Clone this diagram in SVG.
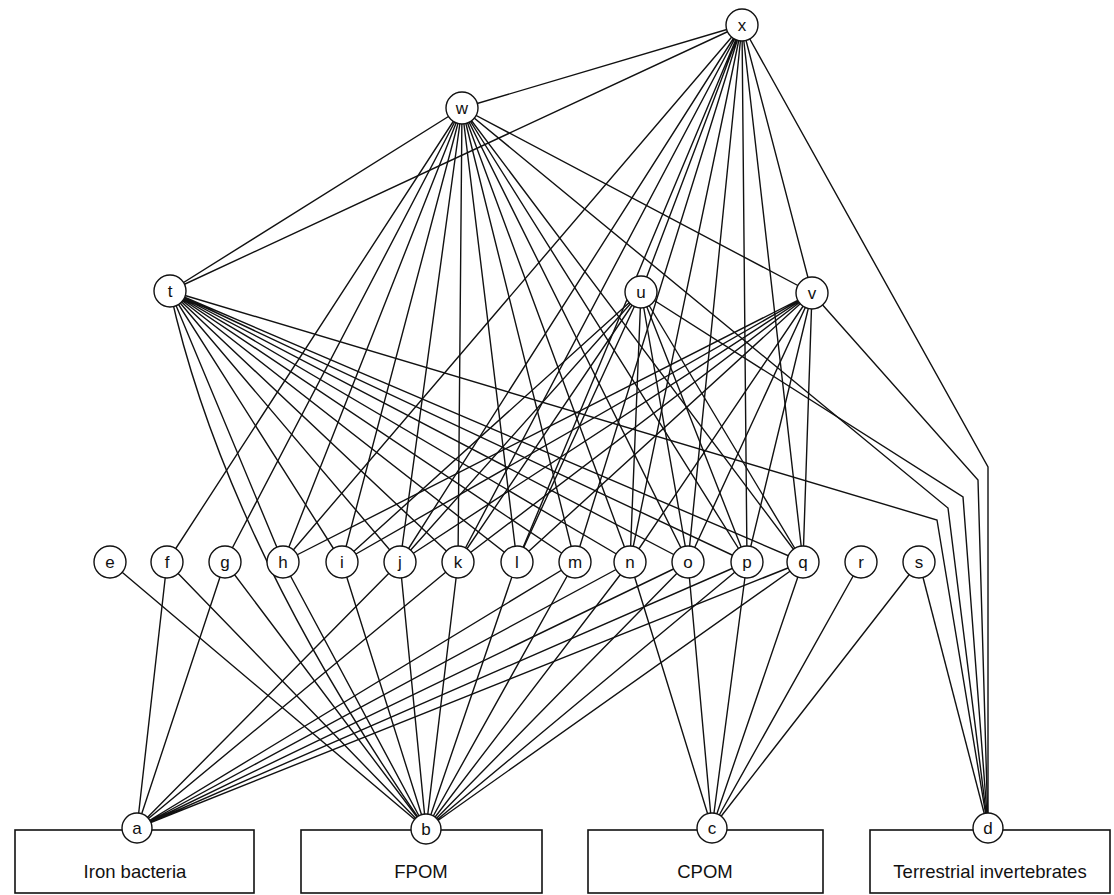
<svg xmlns="http://www.w3.org/2000/svg" width="1114" height="895" viewBox="0 0 1114 895">
<style>
.e{stroke:#111;stroke-width:1.4;fill:none}
.n circle{fill:#fff;stroke:#111;stroke-width:1.4}
.n text{font-family:"Liberation Sans",Arial,sans-serif;font-size:17px;text-anchor:middle;fill:#111}
.box rect{fill:#fff;stroke:#111;stroke-width:1.6}
.box text{font-family:"Liberation Sans",Arial,sans-serif;font-size:18.5px;text-anchor:middle;fill:#111}
</style>
<rect width="1114" height="895" fill="#fff"/>
<g id="boxes">
<g id="box-iron" class="box"><rect x="15" y="830" width="239" height="63"/><text x="135" y="878">Iron bacteria</text></g>
<g id="box-fpom" class="box"><rect x="301" y="830" width="241" height="63"/><text x="421" y="878">FPOM</text></g>
<g id="box-cpom" class="box"><rect x="588" y="830" width="235" height="63"/><text x="705" y="878">CPOM</text></g>
<g id="box-terr" class="box"><rect x="870" y="830" width="240" height="63"/><text x="990" y="878">Terrestrial invertebrates</text></g>
</g>
<g id="connectors" class="e">
<path d="M742,25L462,108M742,25L170,291M462,108L170,291"/>
<path d="M742,25L283,562M742,25L400,562M742,25L458,562M742,25L517,562M742,25L575,562M742,25L630,562M742,25L688,562M742,25L747,562M742,25L803,562M742,25L641,292M742,25L812,293"/>
<polyline points="742,25 988,467 988,828"/>
<path d="M462,108L167,562M462,108L225,562M462,108L283,562M462,108L342,562M462,108L400,562M462,108L458,562M462,108L517,562M462,108L575,562M462,108L630,562M462,108L688,562M462,108L747,562M462,108L803,562M462,108L812,293"/>
<polyline points="462,108 948,508 988,828"/>
<path d="M170,291L283,562M170,291L342,562M170,291L400,562M170,291L458,562M170,291L517,562M170,291L575,562M170,291L630,562M170,291L688,562M170,291L747,562M170,291L803,562"/>
<path d="M170,291Q225,540 426,829"/>
<polyline points="170,291 937,520 988,828"/>
<path d="M641,292L342,562M641,292L400,562M641,292L458,562M641,292L517,562M641,292L630,562M641,292L688,562M641,292L747,562M641,292L803,562"/>
<polyline points="641,292 963,497 988,828"/>
<path d="M812,293L283,562M812,293L342,562M812,293L400,562M812,293L458,562M812,293L517,562M812,293L630,562M812,293L688,562M812,293L747,562M812,293L803,562"/>
<polyline points="812,293 978,480 988,828"/>
<path d="M137,828L167,562M137,828L225,562M137,828L400,562M137,828L458,562M137,828L575,562M137,828L630,562M137,828L688,562M137,828L747,562M137,828L803,562"/>
<path d="M426,829L110,562M426,829L167,562M426,829L225,562M426,829L283,562M426,829L342,562M426,829L400,562M426,829L458,562M426,829L517,562M426,829L575,562M426,829L630,562M426,829L688,562M426,829L747,562M426,829L803,562"/>
<path d="M712,828L630,562M712,828L688,562M712,828L747,562M712,828L803,562M712,828L861,562M712,828L919,562"/>
<path d="M988,828L919,562"/>
</g>
<g id="nodes">
<g id="node-x" class="n"><circle cx="742" cy="25" r="16"/><text x="742" y="31">x</text></g>
<g id="node-w" class="n"><circle cx="462" cy="108" r="16"/><text x="462" y="114">w</text></g>
<g id="node-t" class="n"><circle cx="170" cy="291" r="16"/><text x="170" y="297">t</text></g>
<g id="node-u" class="n"><circle cx="641" cy="292" r="16"/><text x="641" y="298">u</text></g>
<g id="node-v" class="n"><circle cx="812" cy="293" r="16"/><text x="812" y="299">v</text></g>
<g id="node-e" class="n"><circle cx="110" cy="562" r="16"/><text x="110" y="568">e</text></g>
<g id="node-f" class="n"><circle cx="167" cy="562" r="16"/><text x="167" y="568">f</text></g>
<g id="node-g" class="n"><circle cx="225" cy="562" r="16"/><text x="225" y="568">g</text></g>
<g id="node-h" class="n"><circle cx="283" cy="562" r="16"/><text x="283" y="568">h</text></g>
<g id="node-i" class="n"><circle cx="342" cy="562" r="16"/><text x="342" y="568">i</text></g>
<g id="node-j" class="n"><circle cx="400" cy="562" r="16"/><text x="400" y="568">j</text></g>
<g id="node-k" class="n"><circle cx="458" cy="562" r="16"/><text x="458" y="568">k</text></g>
<g id="node-l" class="n"><circle cx="517" cy="562" r="16"/><text x="517" y="568">l</text></g>
<g id="node-m" class="n"><circle cx="575" cy="562" r="16"/><text x="575" y="568">m</text></g>
<g id="node-n" class="n"><circle cx="630" cy="562" r="16"/><text x="630" y="568">n</text></g>
<g id="node-o" class="n"><circle cx="688" cy="562" r="16"/><text x="688" y="568">o</text></g>
<g id="node-p" class="n"><circle cx="747" cy="562" r="16"/><text x="747" y="568">p</text></g>
<g id="node-q" class="n"><circle cx="803" cy="562" r="16"/><text x="803" y="568">q</text></g>
<g id="node-r" class="n"><circle cx="861" cy="562" r="16"/><text x="861" y="568">r</text></g>
<g id="node-s" class="n"><circle cx="919" cy="562" r="16"/><text x="919" y="568">s</text></g>
<g id="node-a" class="n"><circle cx="137" cy="828" r="15"/><text x="137" y="834">a</text></g>
<g id="node-b" class="n"><circle cx="426" cy="829" r="15"/><text x="426" y="835">b</text></g>
<g id="node-c" class="n"><circle cx="712" cy="828" r="15"/><text x="712" y="834">c</text></g>
<g id="node-d" class="n"><circle cx="988" cy="828" r="15"/><text x="988" y="834">d</text></g>
</g>
</svg>
